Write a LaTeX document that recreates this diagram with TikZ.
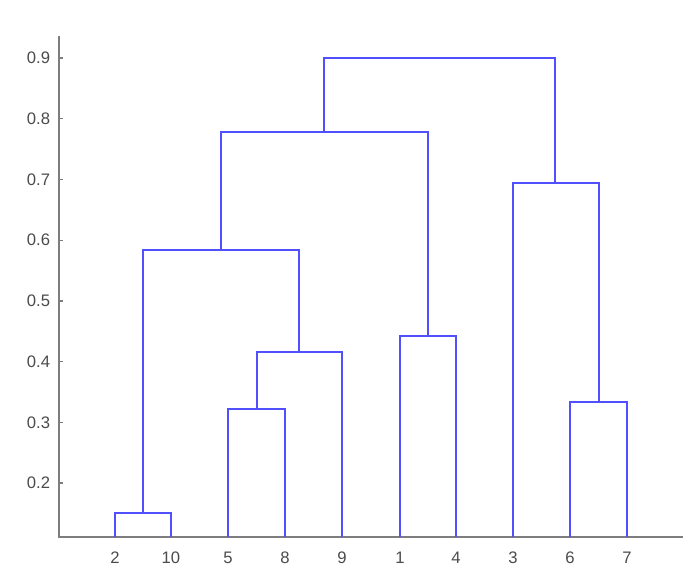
\documentclass[tikz,border=0pt]{standalone}
\usepackage{fontspec}
\setmainfont{Liberation Sans}
\definecolor{dendro}{RGB}{80,80,255}
\definecolor{axisgray}{RGB}{125,125,125}
\definecolor{labelgray}{RGB}{75,75,75}
\tikzset{
  branch/.style={draw=dendro, line width=1.5pt},
  axisline/.style={draw=axisgray, line width=1.5pt},
  ticklab/.style={text=labelgray, font=\fontsize{12.5}{14}\selectfont, inner sep=0pt},
}
\begin{document}
\begin{tikzpicture}[x=0.75pt,y=-0.75pt]
\useasboundingbox (0,0) rectangle (695,585);
% axes
\coordinate (ytop) at (59,36);
\coordinate (orig) at (59,537);
\coordinate (xend) at (683,537);
\draw[axisline] (ytop) -- (orig) -- (xend);
% y ticks
\foreach \k in {2,...,9}{
  \coordinate (t\k) at (59,{604.4-60.7*\k});
  \draw[axisline, line width=1pt] (t\k) -- ++(4,0);
  \node[ticklab, anchor=east] (yl\k) at ([xshift=-6.5pt]t\k) {0.\k};
}
% leaves
\foreach \n/\x in {2/115,10/171,5/228,8/285,9/342,1/400,4/456,3/513,6/570,7/627}{
  \coordinate (L\n) at (\x,537);
  \node[ticklab] (xl\n) at (\x,558) {\n};
}
% merge points
\coordinate (m210) at (143,513);
\coordinate (m58) at (257,409);
\coordinate (m589) at (299,352);
\coordinate (mA) at (221,250);
\coordinate (m14) at (428,336);
\coordinate (mB) at (324,132);
\coordinate (m67) at (599,402);
\coordinate (m367) at (555,183);
\coordinate (mTop) at (440,58);
% branches
\draw[branch] (L2) |- (m210) -| (L10);
\draw[branch] (L5) |- (m58) -| (L8);
\draw[branch] (m58) |- (m589) -| (L9);
\draw[branch] (m210) |- (mA) -| (m589);
\draw[branch] (L1) |- (m14) -| (L4);
\draw[branch] (mA) |- (mB) -| (m14);
\draw[branch] (L6) |- (m67) -| (L7);
\draw[branch] (L3) |- (m367) -| (m67);
\draw[branch] (mB) |- (mTop) -| (m367);
\end{tikzpicture}
\end{document}
